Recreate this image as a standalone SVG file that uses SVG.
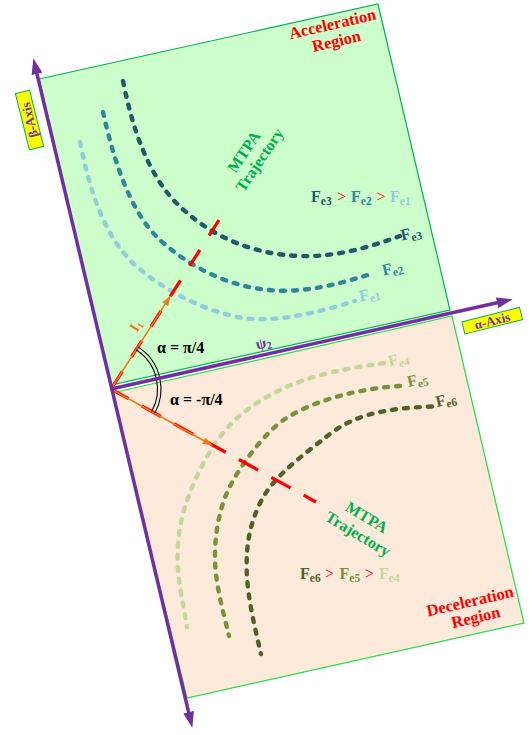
<svg xmlns="http://www.w3.org/2000/svg" width="532" height="735" viewBox="0 0 532 735">
<style>
text{font-family:"Liberation Serif","Times New Roman",serif;font-weight:bold}
.reg{fill:#ff0000;font-size:16.5px}
.mtpa{fill:#00b050;font-size:16px}
.ax{fill:#7030a0;font-size:13px}
.axbox{fill:#ffff00;stroke:#00b050;stroke-width:1}
.cv{fill:none;stroke-width:4.4;stroke-linecap:round;stroke-dasharray:4 8}
.F{font-size:16px}
.sub{font-size:11.5px}
.gt{font-size:16px;font-weight:normal;fill:#ff0000}
.ang{fill:#000;font-size:16px}
.arc{fill:none;stroke:#000;stroke-width:1.1}
.red{fill:none;stroke:#ff0000;stroke-width:3.2}
.org{fill:none;stroke:#f07818;stroke-width:1.5}
.axis{fill:none;stroke:#7030a0;stroke-width:3.5}
.c1{fill:#93cddd;stroke:#93cddd}.c2{fill:#31859c;stroke:#31859c}.c3{fill:#215968;stroke:#215968}
.c4{fill:#c3d69b;stroke:#c3d69b}.c5{fill:#77933c;stroke:#77933c}.c6{fill:#4f6228;stroke:#4f6228}
text.c1,text.c2,text.c3,text.c4,text.c5,text.c6,tspan{stroke:none}
</style>
<defs>
<marker id="ap" markerUnits="userSpaceOnUse" markerWidth="16" markerHeight="11" refX="8" refY="5.5" orient="auto-start-reverse"><path d="M0,0 L16,5.5 L0,11 z" fill="#7030a0"/></marker>
<marker id="ao" markerUnits="userSpaceOnUse" markerWidth="10" markerHeight="8" refX="9" refY="4" orient="auto"><path d="M0,0.5 L10,4 L0,7.5 z" fill="#f07818"/></marker>
</defs>

<g id="acceleration-region">
<polygon points="39,79 378,4 450,310 111,385" fill="#ccffcc" stroke="#00b050" stroke-width="1.2"/>
<g transform="translate(333.7,29.3) rotate(-13)">
<text class="reg" text-anchor="middle" x="0" y="0">Acceleration</text>
<text class="reg" text-anchor="middle" x="0" y="17.5">Region</text>
</g>
</g>

<g id="deceleration-region">
<polygon points="112,393 452,316 524,623 187,698" fill="#fdeada" stroke="#22dd44" stroke-width="1.2"/>
<g transform="translate(471.2,606.5) rotate(-13)">
<text class="reg" text-anchor="middle" x="0" y="0">Deceleration</text>
<text class="reg" text-anchor="middle" x="2" y="17">Region</text>
</g>
</g>

<g id="curves">
<path id="fe3" class="cv c3" style="fill:none" d="M123,81 C132.8,130 148.4,175 176.7,203.3 C208.5,235.1 250,254.3 300,256 C335,257.2 367.1,248 400,236"/>
<path id="fe2" class="cv c2" style="fill:none" d="M103,112 C113.8,160.9 130.5,213 160,240 C189.5,267 233.3,290.7 283.3,290.7 C315.3,290.7 343.5,282.6 374,273"/>
<path id="fe1" class="cv c1" style="fill:none" d="M80,142 C89.8,191 104.3,235.7 133.3,263.3 C162.3,290.9 218,319.3 260,319.3 C292,319.3 324.3,310.2 355,301"/>
<path id="fe4" class="cv c4" style="fill:none" d="M384,363 C349,368 311.3,374.4 280,390 C239.7,410.1 220.1,429.8 200,470 C183,504 174.8,535.5 178.3,573.3 C180,591.2 184,609 187,627"/>
<path id="fe5" class="cv c5" style="fill:none" d="M400,386 C362,388 314.3,399.8 285,419 C264.1,432.7 236.4,470.3 226.7,493.3 C218.2,513.6 214.5,538 215,560 C215.6,585 223.2,611.7 229,636"/>
<path id="fe6" class="cv c6" style="fill:none" d="M432,406.5 C382,408.5 353.2,415 326,437 C302.7,455.8 272.8,476.2 260,503.3 C249.3,525.9 246.2,545 246.7,570 C247.3,596 254.5,626.8 261,654"/>
</g>

<g id="curve-labels">
<text class="c3" transform="translate(402,240.5) rotate(-13)"><tspan class="F">F</tspan><tspan class="sub" dy="3">e3</tspan></text>
<text class="c2" transform="translate(383.5,275.5) rotate(-13)"><tspan class="F">F</tspan><tspan class="sub" dy="3">e2</tspan></text>
<text class="c1" transform="translate(360.5,301.5) rotate(-13)"><tspan class="F">F</tspan><tspan class="sub" dy="3">e1</tspan></text>
<text class="c4" transform="translate(389.5,366.5) rotate(-13)"><tspan class="F">F</tspan><tspan class="sub" dy="3">e4</tspan></text>
<text class="c5" transform="translate(408.5,387) rotate(-13)"><tspan class="F">F</tspan><tspan class="sub" dy="3">e5</tspan></text>
<text class="c6" transform="translate(437,407) rotate(-13)"><tspan class="F">F</tspan><tspan class="sub" dy="3">e6</tspan></text>
</g>

<g id="ordering-labels">
<text y="201.5"><tspan x="311" class="F" fill="#215968">F</tspan><tspan class="sub" dy="3" fill="#215968">e3</tspan><tspan x="337" dy="-3" class="gt">&gt;</tspan><tspan x="351" class="F" fill="#31859c">F</tspan><tspan class="sub" dy="3" fill="#31859c">e2</tspan><tspan x="376.5" dy="-3" class="gt">&gt;</tspan><tspan x="390" class="F" fill="#93cddd">F</tspan><tspan class="sub" dy="3" fill="#93cddd">e1</tspan></text>
<text y="579"><tspan x="300" class="F" fill="#4f6228">F</tspan><tspan class="sub" dy="3" fill="#4f6228">e6</tspan><tspan x="325" dy="-3" class="gt">&gt;</tspan><tspan x="339.5" class="F" fill="#77933c">F</tspan><tspan class="sub" dy="3" fill="#77933c">e5</tspan><tspan x="365" dy="-3" class="gt">&gt;</tspan><tspan x="379" class="F" fill="#c3d69b">F</tspan><tspan class="sub" dy="3" fill="#c3d69b">e4</tspan></text>
</g>

<g id="mtpa-labels">
<g transform="translate(248.4,154.7) rotate(-56)">
<text class="mtpa" text-anchor="middle" x="0" y="0">MTPA</text>
<text class="mtpa" text-anchor="middle" x="2" y="17.5">Trajectory</text>
</g>
<g transform="translate(364,521.9) rotate(31)">
<text class="mtpa" text-anchor="middle" x="0" y="0">MTPA</text>
<text class="mtpa" text-anchor="middle" x="1" y="18.8">Trajectory</text>
</g>
</g>

<g id="connectors">
<path class="red" d="M111,389 L219,220" stroke-dasharray="19 17" stroke-dashoffset="34"/>
<path class="red" d="M111,389 L316,502" stroke-dasharray="22 15" stroke-dashoffset="2"/>
<path class="org" d="M111,389 L170,296.7" marker-end="url(#ao)"/>
<path class="org" d="M111,389 L211.7,445" marker-end="url(#ao)"/>
<path class="arc" d="M136.05,349.82 A46.5,46.5 0 0 1 156.39,378.89"/>
<path class="arc" d="M137.94,346.87 A50,50 0 0 1 159.8,378.13"/>
<path class="arc" d="M156.39,378.89 A46.5,46.5 0 0 1 151.71,411.47"/>
<path class="arc" d="M159.8,378.13 A50,50 0 0 1 154.78,413.17"/>
<path id="beta-axis" class="axis" d="M190.45,719.92 L35.15,66.08" marker-start="url(#ap)" marker-end="url(#ap)"/>
<path id="alpha-axis" class="axis" d="M111,389 L504.9,301.04" marker-end="url(#ap)"/>
</g>

<g id="angle-labels">
<text class="ang" x="157" y="352.5">α = π/4</text>
<text class="ang" x="170" y="404.5">α = -π/4</text>
<text transform="translate(257,349.5) rotate(-13)" style="fill:#7030a0;font-size:15px">ψ<tspan dy="2" style="font-size:10.5px">2</tspan></text>
<text transform="translate(139.9,328.5) rotate(-57)" text-anchor="middle" style="fill:#f07818;font-size:15px">I<tspan dy="2" style="font-size:9.5px">1</tspan></text>
</g>

<g id="beta-label" transform="translate(29.5,120) rotate(-104)">
<rect class="axbox" x="-29" y="-7.3" width="58" height="14.6"/>
<text class="ax" text-anchor="middle" x="0" y="4.5">β-Axis</text>
</g>
<g id="alpha-label" transform="translate(492.2,320.7) rotate(-14)">
<rect class="axbox" x="-29.7" y="-6.3" width="59.4" height="12.6"/>
<text class="ax" text-anchor="middle" x="0" y="4.5">α-Axis</text>
</g>
</svg>
